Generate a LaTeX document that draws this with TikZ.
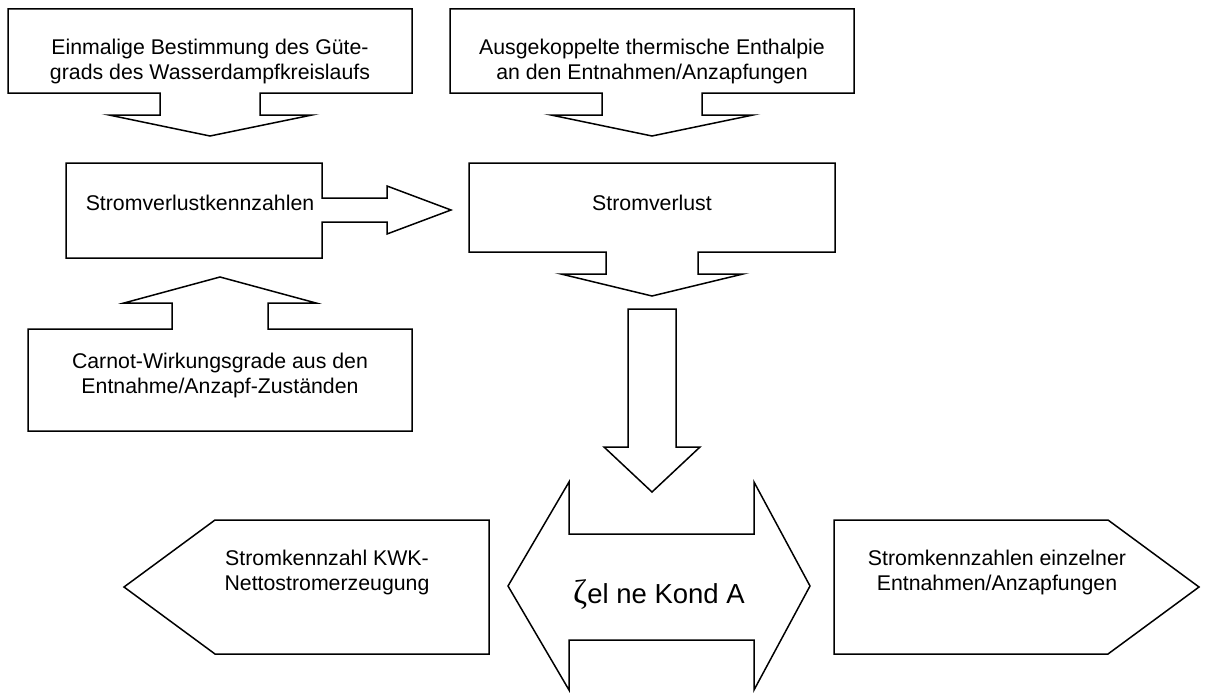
\documentclass[tikz,border=0pt]{standalone}
\usepackage{fontspec}
\setmainfont{Liberation Sans}
\newfontfamily\zetafont{Liberation Serif}
\begin{document}
\begin{tikzpicture}[x=1pt,y=-1pt,
  shp/.style={draw=black,line width=1.5pt,fill=white,line join=miter},
  txt/.style={align=center,font=\fontsize{21.3}{25}\selectfont,inner sep=0pt},
  bigtxt/.style={align=left,font=\fontsize{27.5}{30}\selectfont,inner sep=0pt}]
\useasboundingbox (0,0) rectangle (1205,693);
% Box 1 with down arrow
\draw[shp] (8,9) -- (412,9) -- (412,93) -- (260,93) -- (260,115) -- (312,115) -- (210,136)
  -- (109,115) -- (160,115) -- (160,93) -- (8,93) -- cycle;
\node[txt] (g) at (210,61) {Einmalige Bestimmung des Güte-\\grads des Wasserdampfkreislaufs};
% Box 2 with down arrow
\draw[shp] (450,9) -- (854,9) -- (854,93) -- (702,93) -- (702,115) -- (753,115) -- (652,136)
  -- (551,115) -- (602,115) -- (602,93) -- (450,93) -- cycle;
\node[txt] (h) at (652,61) {Ausgekoppelte thermische Enthalpie\\an den Entnahmen/Anzapfungen};
% Stromverlustkennzahlen with right arrow
\draw[shp] (66,163) -- (322,163) -- (322,198) -- (387,198) -- (387,186) -- (451,210)
  -- (387,234) -- (387,222) -- (322,222) -- (322,258) -- (66,258) -- cycle;
\node[txt] (k) at (200,203) {Stromverlustkennzahlen};
% Stromverlust with down arrow
\draw[shp] (469,163) -- (835,163) -- (835,252) -- (698,252) -- (698,274) -- (743,274) -- (652,296)
  -- (561,274) -- (606,274) -- (606,252) -- (469,252) -- cycle;
\node[txt] (v) at (652,203) {Stromverlust};
% Carnot box with up arrow
\draw[shp] (28,329) -- (172,329) -- (172,303) -- (124,303) -- (220,277) -- (316,303)
  -- (268,303) -- (268,329) -- (412,329) -- (412,431) -- (28,431) -- cycle;
\node[txt] (c) at (220,375) {Carnot-Wirkungsgrade aus den\\Entnahme/Anzapf-Zuständen};
% block down arrow
\draw[shp] (628,309) -- (676,309) -- (676,447) -- (700,447) -- (652,492) -- (604,447)
  -- (628,447) -- cycle;
% double arrow
\draw[shp] (508,586) -- (569,482) -- (569,534) -- (754,534) -- (754,482) -- (810,586)
  -- (754,690) -- (754,640) -- (569,640) -- (569,690) -- cycle;
\node[bigtxt,anchor=base west] (z) at (573,603) {{\zetafont\fontsize{34}{34}\selectfont ζ}el ne Kond A};
% left pentagon
\draw[shp] (124,587) -- (215,520) -- (489,520) -- (489,654) -- (215,654) -- cycle;
\node[txt] (l) at (327,572) {Stromkennzahl KWK-\\Nettostromerzeugung};
% right pentagon
\draw[shp] (834,520) -- (1108,520) -- (1199,587) -- (1108,654) -- (834,654) -- cycle;
\node[txt] (r) at (997,572) {Stromkennzahlen einzelner\\Entnahmen/Anzapfungen};
\end{tikzpicture}
\end{document}
